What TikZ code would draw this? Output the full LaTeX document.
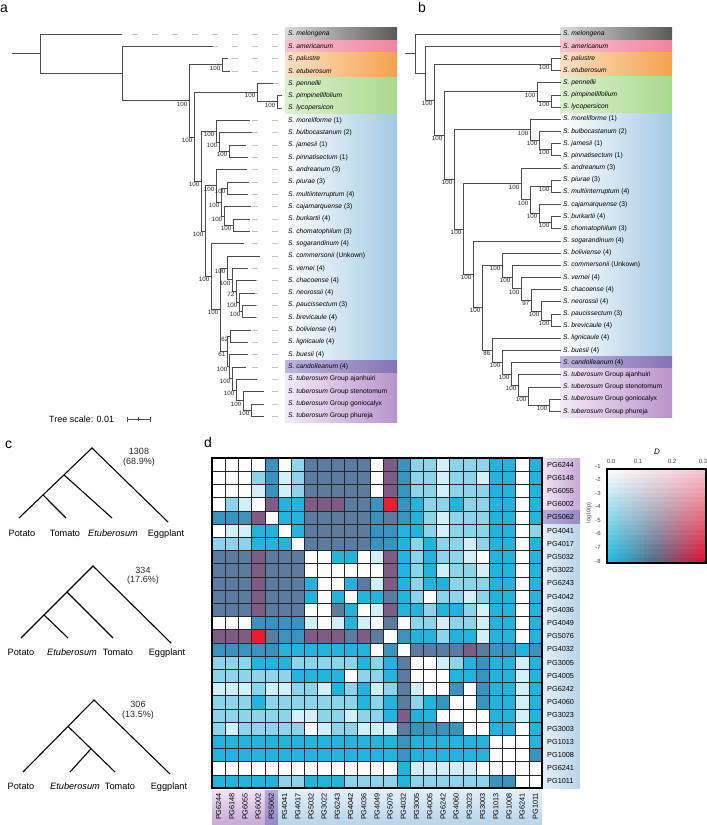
\documentclass[tikz,border=0pt]{standalone}
\usepackage{fontspec}
\setmainfont{Liberation Sans}
\usetikzlibrary{calc}

\definecolor{branchgray}{HTML}{4D4D4D}
\definecolor{dashgray}{HTML}{C4C4C4}
% clade bands
\definecolor{melL}{HTML}{DCDCDC}
\definecolor{melR}{HTML}{595959}
\definecolor{ameL}{HTML}{F7C3CF}
\definecolor{ameR}{HTML}{F2849F}
\definecolor{palL}{HTML}{FCE0C6}
\definecolor{palR}{HTML}{F4A24C}
\definecolor{tomL}{HTML}{DDF0D0}
\definecolor{tomR}{HTML}{A9D98E}
\definecolor{potL}{HTML}{FFFFFF}
\definecolor{potR}{HTML}{A3C9E3}
\definecolor{canL}{HTML}{BDB4DE}
\definecolor{canR}{HTML}{8474B4}
\definecolor{tubL}{HTML}{F3EBF7}
\definecolor{tubR}{HTML}{B993CB}
% heatmap label backgrounds
\definecolor{rlpL}{HTML}{EEE4F2}
\definecolor{rlpR}{HTML}{C8A8D8}
\definecolor{rlcL}{HTML}{B4A8DA}
\definecolor{rlcR}{HTML}{9888C8}
\definecolor{rlbL}{HTML}{E4EEF6}
\definecolor{rlbR}{HTML}{B8D4EA}
% heatmap cells
\definecolor{hmW}{HTML}{FFFFFF}
\definecolor{hmV}{HTML}{D2EFF8}
\definecolor{hmL}{HTML}{8DD4EA}
\definecolor{hmC}{HTML}{22B4DD}
\definecolor{hmM}{HTML}{3A92BE}
\definecolor{hmS}{HTML}{5B7BA1}
\definecolor{hmP}{HTML}{7E5C83}
\definecolor{hmR}{HTML}{EE1B2E}
% legend corners
\definecolor{lgpink}{HTML}{F6C9D2}
\definecolor{lgcyan}{HTML}{19BFE4}
\definecolor{lgslate}{HTML}{556686}
\definecolor{lgred}{HTML}{E60B2A}

\newcommand{\fs}[1]{\fontsize{#1}{#1}\selectfont}

\tikzset{
  branch/.style={draw=branchgray, line width=0.7pt},
  tipdash/.style={draw=dashgray, line width=0.7pt, dash pattern=on 6pt off 14pt, dash phase=10pt},
  leaf/.style={anchor=west, inner sep=0pt, font=\fs{6.7}},
  boot/.style={anchor=north east, inner sep=0pt, font=\fs{6.2}, xshift=-1.5pt, yshift=-0.8pt, text=black!85},
  clado/.style={line width=1.1pt},
  spname/.style={font=\fs{9.2}, anchor=base, inner sep=0pt},
  count/.style={font=\fs{9}, inner sep=0pt, text=black!85},
  hmlab/.style={font=\fs{7.3}, inner sep=0pt},
  hmgrid/.style={draw=black!85, line width=0.5pt},
  tick/.style={font=\fs{6}, inner sep=0pt, text=black!75},
  panel/.style={font=\fs{14}, anchor=base west, inner sep=0pt},
}

\begin{document}
\begin{tikzpicture}[x=1pt, y=-1pt]
\useasboundingbox (0,0) rectangle (707,825);

% panel letters
\node[panel] (pa) at (0,12) {a};
\node[panel] (pb) at (418,12) {b};
\node[panel] (pc) at (5,448) {c};
\node[panel] (pd) at (204,447) {d};

% ---------- tree a ----------
\begin{scope}[yshift=-34pt, y=-12.33pt]
  % clade bands
  \foreach \ya/\yb/\cl/\cr in {0/0/melL/melR, 1/1/ameL/ameR, 2/3/palL/palR, 4/6/tomL/tomR,
      7/26/potL/potR, 27/27/canL/canR, 28/31/tubL/tubR}
    \shade[left color=\cl, right color=\cr] (285,\ya-0.5) rectangle (397,\yb+0.5);
  % leaves
  \foreach \i/\spn/\gr/\tx in {0/melongena//122, 1/americanum//213, 2/palustre//228, 3/etuberosum//230,
      4/pennellii//273, 5/pimpinellifolium//282, 6/lycopersicon//282,
      7/moreliforme/{~(1)}/250, 8/bulbocastanum/{~(2)}/252, 9/jamesii/{~(1)}/246, 10/pinnatisectum/{~(1)}/248,
      11/andreanum/{~(3)}/247, 12/piurae/{~(3)}/249, 13/multiinterruptum/{~(4)}/248, 14/cajamarquense/{~(3)}/251,
      15/burkartii/{~(4)}/250, 16/chomatophilum/{~(3)}/250, 17/sogarandinum/{~(4)}/244,
      18/commersonii/{~(Unkown)}/260, 19/vernei/{~(4)}/248, 20/chacoense/{~(4)}/256, 21/neorossii/{~(4)}/255,
      22/paucissectum/{~(3)}/256, 23/brevicaule/{~(4)}/256, 24/boliviense/{~(4)}/251, 25/lignicaule/{~(4)}/248,
      26/buesii/{~(4)}/248, 27/candolleanum/{~(4)}/246, 28/tuberosum/{~Group ajanhuiri}/257,
      29/tuberosum/{~Group stenotomum}/264, 30/tuberosum/{~Group goniocalyx}/264, 31/tuberosum/{~Group phureja}/264}{
    \coordinate (ta\i) at (\tx,\i);
    \node[leaf] (la\i) at (288,\i) {\textit{S. \spn}\gr};
    \draw[tipdash] (la\i.west) -- (ta\i);
  }
  % internal nodes
  \foreach \n/\x/\y in {a1/40/1.605, a2/122/3.21, a3/189/5.421, aPE/222/2.5, a4/194/8.342, aTo/257/4.75,
      aPP/277/5.5, aPN/201/11.934, aA/216/7.875, aA2/219/8.75, aJP/229/9.5, aX/205/15.994,
      aB1/216/12.3125, aB2/221/13.625, aPM/227/12.5, aB3/224/14.75, aBC/233/15.5, aY/211/19.676,
      aZ/220/22.35, aW1/227/18.969, aW2/232/19.9375, aW3/236/20.875, aW4/239/21.75, aPB/242/22.5,
      a61/227/25.734, aBL/230/24.5, aBG/229/26.969, aCT/232/27.9375, aAT/236/28.875, aSG/243/29.75,
      aGP/251/30.5}
    \coordinate (\n) at (\x,\y);
  \coordinate (a0) at (12,1.605);
  % branches
  \draw[branch] (a0) -- (a1);
  \foreach \p/\q in {a1/ta0, a1/a2, a2/ta1, a2/a3, a3/aPE, a3/a4, aPE/ta2, aPE/ta3, a4/aTo, a4/aPN,
      aTo/ta4, aTo/aPP, aPP/ta5, aPP/ta6, aPN/aA, aPN/aX, aA/ta7, aA/aA2, aA2/ta8, aA2/aJP,
      aJP/ta9, aJP/ta10, aX/aB1, aX/aY, aB1/ta11, aB1/aB2, aB2/aPM, aB2/aB3, aPM/ta12, aPM/ta13,
      aB3/ta14, aB3/aBC, aBC/ta15, aBC/ta16, aY/ta17, aY/aZ, aZ/aW1, aZ/a61, aW1/ta18, aW1/aW2,
      aW2/ta19, aW2/aW3, aW3/ta20, aW3/aW4, aW4/ta21, aW4/aPB, aPB/ta22, aPB/ta23, a61/aBL, a61/aBG,
      aBL/ta24, aBL/ta25, aBG/ta26, aBG/aCT, aCT/ta27, aCT/aAT, aAT/ta28, aAT/aSG, aSG/ta29,
      aSG/aGP, aGP/ta30, aGP/ta31}
    \draw[branch] (\p) |- (\q);
  % support values
  \foreach \n/\t in {aPE/100, a3/100, aTo/100, aPP/100, a4/100, aA/100, aA2/100, aJP/100, aPN/100,
      aX/100, aB1/100, aB2/100, aPM/100, aB3/100, aBC/100, aY/100, aZ/100, aW1/100, aW2/100,
      aW3/72, aW4/100, aPB/100, a61/61, aBL/62, aBG/100, aCT/100, aAT/100, aSG/100, aGP/100}
    \node[boot] at (\n) {\t};
\end{scope}

% tree scale
\node[font=\fs{9}, anchor=base west, inner sep=0pt] (tslab) at (49,422) {Tree scale: 0.01};
\coordinate (ts1) at (127,419);
\coordinate (ts2) at (150,419);
\draw[branchgray, line width=0.6pt] (ts1) -- (ts2);
\draw[branchgray, line width=0.6pt] (ts1) ++(0,-2.5) -- ++(0,5) (ts2) ++(0,-2.5) -- ++(0,5)
  ($(ts1)!0.5!(ts2)$) ++(0,-2) -- ++(0,4);

% ---------- tree b ----------
\begin{scope}[yshift=-34pt, y=-12.17pt]
  \foreach \ya/\yb/\cl/\cr in {0/0/melL/melR, 1/1/ameL/ameR, 2/3/palL/palR, 4/6/tomL/tomR,
      7/26/potL/potR, 27/27/canL/canR, 28/31/tubL/tubR}
    \shade[left color=\cl, right color=\cr] (560,\ya-0.5) rectangle (672,\yb+0.5);
  \foreach \i/\spn/\gr in {0/melongena/, 1/americanum/, 2/palustre/, 3/etuberosum/,
      4/pennellii/, 5/pimpinellifolium/, 6/lycopersicon/,
      7/moreliforme/{~(1)}, 8/bulbocastanum/{~(2)}, 9/jamesii/{~(1)}, 10/pinnatisectum/{~(1)},
      11/andreanum/{~(3)}, 12/piurae/{~(3)}, 13/multiinterruptum/{~(4)}, 14/cajamarquense/{~(3)},
      15/burkartii/{~(4)}, 16/chomatophilum/{~(3)}, 17/sogarandinum/{~(4)}, 18/boliviense/{~(4)},
      19/commersonii/{~(Unkown)}, 20/vernei/{~(4)}, 21/chacoense/{~(4)}, 22/neorossii/{~(4)},
      23/paucissectum/{~(3)}, 24/brevicaule/{~(4)}, 25/lignicaule/{~(4)}, 26/buesii/{~(4)},
      27/candolleanum/{~(4)}, 28/tuberosum/{~Group ajanhuiri}, 29/tuberosum/{~Group stenotomum},
      30/tuberosum/{~Group goniocalyx}, 31/tuberosum/{~Group phureja}}{
    \node[leaf] (lb\i) at (563,\i) {\textit{S. \spn}\gr};
    \coordinate (tb\i) at (561,\i);
  }
  \foreach \n/\x/\y in {b1/415/1.606, b2/425/3.2125, b3/434/5.425, bPE/551/2.5, b4/444/8.35,
      bTo/537/4.75, bPP/551/5.5, bPN/454/11.95, bA/530/7.875, bA2/539/8.75, bJP/551/9.5,
      bB/463/16.03, bB1/521/12.3125, bB2/530/13.625, bPM/551/12.5, bB3/539/14.75, bBC/551/15.5,
      bC/473/19.74, bD/482/22.48, bE/502/18.984, bE2/512/19.969, bE3/521/20.9375, bE4/531/21.875,
      bE5/541/22.75, bPB/551/23.5, bF/492/25.98, bF2/502/26.97, bF3/511/27.9375, bF4/518/28.875,
      bF5/528/29.75, bGP/549/30.5}
    \coordinate (\n) at (\x,\y);
  \coordinate (b0) at (405,1.606);
  \draw[branch] (b0) -- (b1);
  \foreach \p/\q in {b1/tb0, b1/b2, b2/tb1, b2/b3, b3/bPE, b3/b4, bPE/tb2, bPE/tb3, b4/bTo, b4/bPN,
      bTo/tb4, bTo/bPP, bPP/tb5, bPP/tb6, bPN/bA, bPN/bB, bA/tb7, bA/bA2, bA2/tb8, bA2/bJP,
      bJP/tb9, bJP/tb10, bB/bB1, bB/bC, bB1/tb11, bB1/bB2, bB2/bPM, bB2/bB3, bPM/tb12, bPM/tb13,
      bB3/tb14, bB3/bBC, bBC/tb15, bBC/tb16, bC/tb17, bC/bD, bD/bE, bD/bF, bE/tb18, bE/bE2,
      bE2/tb19, bE2/bE3, bE3/tb20, bE3/bE4, bE4/tb21, bE4/bE5, bE5/tb22, bE5/bPB, bPB/tb23,
      bPB/tb24, bF/tb25, bF/bF2, bF2/tb26, bF2/bF3, bF3/tb27, bF3/bF4, bF4/tb28, bF4/bF5,
      bF5/tb29, bF5/bGP, bGP/tb30, bGP/tb31}
    \draw[branch] (\p) |- (\q);
  \foreach \n/\t in {b3/100, bPE/100, b4/100, bTo/100, bPP/100, bPN/100, bA/100, bA2/100, bJP/100,
      bB/100, bB1/100, bB2/100, bPM/100, bB3/100, bBC/100, bC/100, bD/100, bE/100, bE2/100,
      bE3/100, bE4/97, bE5/100, bPB/100, bF/86, bF2/100, bF3/100, bF4/100, bF5/100, bGP/100}
    \node[boot] at (\n) {\t};
\end{scope}

% ---------- panel c ----------
% topology 1
\coordinate (c1top) at (92,448);
\coordinate (c1pot) at (19,518);
\coordinate (c1tom) at (66,518);
\coordinate (c1etu) at (112,518);
\coordinate (c1egg) at (168,522);
\coordinate (c1pte) at ($(c1top)!0.384!(c1pot)$);
\coordinate (c1pt) at ($(c1top)!0.671!(c1pot)$);
\draw[clado] (c1pot) -- (c1top) -- (c1egg);
\draw[clado] (c1pte) -- (c1etu);
\draw[clado] (c1pt) -- (c1tom);
\node[spname] (c1lpot) at (22,536.5) {Potato};
\node[spname] (c1ltom) at (65,536.5) {Tomato};
\node[spname] (c1letu) at (113,536.5) {\textit{Etuberosum}};
\node[spname] (c1legg) at (166,536.5) {Eggplant};
\node[count] (c1n) at (139,451) {1308};
\node[count] (c1p) at (139,462) {(68.9\%)};
% topology 2
\coordinate (c2top) at (93,566);
\coordinate (c2pot) at (21,638);
\coordinate (c2etu) at (68,638);
\coordinate (c2tom) at (113,638);
\coordinate (c2egg) at (171,643);
\coordinate (c2pet) at ($(c2top)!0.361!(c2pot)$);
\coordinate (c2pe) at ($(c2top)!0.68!(c2pot)$);
\draw[clado] (c2pot) -- (c2top) -- (c2egg);
\draw[clado] (c2pet) -- (c2tom);
\draw[clado] (c2pe) -- (c2etu);
\node[spname] (c2lpot) at (21,655.5) {Potato};
\node[spname] (c2letu) at (72,655.5) {\textit{Etuberosum}};
\node[spname] (c2ltom) at (118,655.5) {Tomato};
\node[spname] (c2legg) at (167,655.5) {Eggplant};
\node[count] (c2n) at (143,570) {334};
\node[count] (c2p) at (143,580) {(17.6\%)};
% topology 3
\coordinate (c3top) at (94,700);
\coordinate (c3pot) at (23,772);
\coordinate (c3etu) at (70,772);
\coordinate (c3tom) at (115,772);
\coordinate (c3egg) at (170,774);
\coordinate (c3pl) at ($(c3top)!0.366!(c3pot)$);
\coordinate (c3et) at ($(c3pl)!0.49!(c3tom)$);
\draw[clado] (c3pot) -- (c3top) -- (c3egg);
\draw[clado] (c3pl) -- (c3tom);
\draw[clado] (c3et) -- (c3etu);
\node[spname] (c3lpot) at (21,789.5) {Potato};
\node[spname] (c3letu) at (75,789.5) {\textit{Etuberosum}};
\node[spname] (c3ltom) at (120,789.5) {Tomato};
\node[spname] (c3legg) at (169,789.5) {Eggplant};
\node[count] (c3n) at (138,704) {306};
\node[count] (c3p) at (138,715) {(13.5\%)};

% ---------- panel d: heatmap ----------
\begin{scope}[shift={(212,458)}]
  % label backgrounds
  \shade[left color=rlpL, right color=rlpR] (331,0) rectangle (368,52.8);
  \shade[left color=rlcL, right color=rlcR] (331,52.8) rectangle (368,66);
  \shade[left color=rlbL, right color=rlbR] (331,66) rectangle (368,330);
  \shade[top color=rlpL, bottom color=rlpR] (0,332) rectangle (52.8,367);
  \shade[top color=rlcL, bottom color=rlcR] (52.8,332) rectangle (66,367);
  \shade[top color=rlbL, bottom color=rlbR] (66,332) rectangle (330,367);
  % cells
  \foreach \hmrow [count=\i from 0] in {
      {W,W,W,W,M,W,L,S,S,S,S,S,W,P,M,L,L,V,L,L,L,C,C,W,C},
      {W,W,W,L,M,V,L,S,S,S,S,S,W,P,M,L,L,V,L,L,V,C,C,W,C},
      {W,W,W,V,M,V,L,S,S,S,S,S,W,P,M,L,L,V,L,L,L,C,C,W,C},
      {W,L,V,W,P,C,C,P,P,P,S,S,M,R,M,C,L,L,C,L,L,C,C,W,C},
      {M,M,M,P,W,C,C,S,S,S,S,S,M,S,M,C,L,V,L,L,L,C,C,W,C},
      {W,V,V,C,C,W,C,S,S,S,S,S,M,M,C,C,L,V,L,L,L,C,C,W,L},
      {L,L,L,C,C,C,W,S,S,S,S,S,M,M,C,L,C,L,L,V,L,C,C,W,C},
      {S,S,S,P,S,S,S,W,W,C,C,W,V,P,C,L,C,L,L,V,W,C,C,W,C},
      {S,S,S,P,S,S,S,W,W,W,W,W,W,P,C,L,C,V,L,L,V,C,C,W,C},
      {S,S,S,P,S,S,S,C,W,W,C,S,V,P,C,L,C,C,L,L,L,C,C,W,C},
      {S,S,S,P,S,S,S,C,W,C,W,C,C,S,C,L,W,L,L,V,L,C,C,W,C},
      {S,S,S,P,S,S,S,W,W,S,C,W,V,P,C,C,L,C,C,L,V,C,C,W,C},
      {W,W,W,M,M,M,M,V,W,V,C,V,W,S,W,L,L,V,L,L,V,C,C,W,C},
      {P,P,P,R,S,M,M,P,P,P,S,P,S,W,M,C,C,L,C,C,V,C,C,W,C},
      {M,M,M,M,M,C,C,C,C,C,C,C,W,M,W,S,S,S,S,P,S,M,M,C,M},
      {L,L,L,C,C,C,L,L,L,L,L,C,L,C,S,W,W,V,L,C,M,C,C,V,C},
      {L,L,L,L,L,L,C,C,C,C,W,L,L,C,S,W,W,W,C,C,M,C,C,V,C},
      {V,V,V,L,V,V,L,L,V,C,L,C,V,L,S,V,W,W,M,W,M,C,C,V,C},
      {L,L,L,C,L,L,L,L,L,L,L,C,L,C,S,L,C,M,W,W,M,C,C,V,C},
      {L,L,L,L,L,L,V,V,L,L,V,L,L,C,P,C,C,W,W,W,W,C,C,V,C},
      {L,V,L,L,L,L,L,W,V,L,L,V,V,V,S,M,M,M,M,W,W,C,C,W,C},
      {C,C,C,C,C,C,C,C,C,C,C,C,C,C,M,C,C,C,C,C,C,W,W,W,C},
      {C,C,C,C,C,C,C,C,C,C,C,C,C,C,M,C,C,C,C,C,C,W,W,W,M},
      {W,W,W,W,W,W,W,W,W,W,W,W,W,W,C,V,V,V,V,V,W,W,W,W,W},
      {C,C,C,C,C,L,L,C,C,C,L,L,L,L,C,L,L,L,L,L,L,M,M,W,W}}{
    \foreach \cc [count=\j from 0] in \hmrow
      \fill[fill=hm\cc] (\j*13.2,\i*13.2) rectangle ++(13.2,13.2);
  }
  % grid
  \foreach \k in {1,...,24}{
    \draw[hmgrid] (\k*13.2,0) -- (\k*13.2,330);
    \draw[hmgrid] (0,\k*13.2) -- (330,\k*13.2);
  }
  \draw[line width=1.4pt] (0,0) rectangle (330,330);
  % row and column labels
  \foreach \lab [count=\k from 0] in {PG6244,PG6148,PG6055,PG6002,PG5062,PG4041,PG4017,PG5032,
      PG3022,PG6243,PG4042,PG4036,PG4049,PG5076,PG4032,PG3005,PG4005,PG6242,PG4060,PG3023,
      PG3003,PG1013,PG1008,PG6241,PG1011}{
    \node[hmlab, anchor=west] (rl\k) at (335,\k*13.2+6.6) {\lab};
    \node[hmlab, rotate=90, anchor=east] (cl\k) at (\k*13.2+6.6,335) {\lab};
  }
\end{scope}

% ---------- legend ----------
\foreach \u in {0,...,23}{
  \foreach \v in {0,...,19}{
    \pgfmathtruncatemacro\lgu{round(100*(\u+0.5)/24)}
    \pgfmathtruncatemacro\lgv{round(100*(\v+0.5)/20)}
    \pgfmathtruncatemacro\lgb{\lgu<50 ? 2*\lgu : 2*\lgu-100}
    \ifnum\lgu<50
      \colorlet{lgbot}{lgslate!\lgb!lgcyan}
    \else
      \colorlet{lgbot}{lgred!\lgb!lgslate}
    \fi
    \colorlet{lgtop}{lgpink!\lgu!white}
    \fill[lgbot!\lgv!lgtop] (607+\u*4.125,469+\v*4.7) rectangle +(4.3,4.9);
  }
}
\draw[line width=1.1pt] (607,469) rectangle (706,563);
\node[font=\fs{8}\itshape, inner sep=0pt] (lgD) at (657,452) {D};
\foreach \t/\x in {0.0/611, 0.1/638, 0.2/672, 0.3/703}
  \node[tick] at (\x,461) {\t};
\foreach \k in {1,...,8}
  \node[tick] at (598,466+13.57*\k-13.57) {-\k};
\node[tick, rotate=90, font=\fs{5.5}] (lglog) at (589,513) {log10(p)};

\end{tikzpicture}
\end{document}
